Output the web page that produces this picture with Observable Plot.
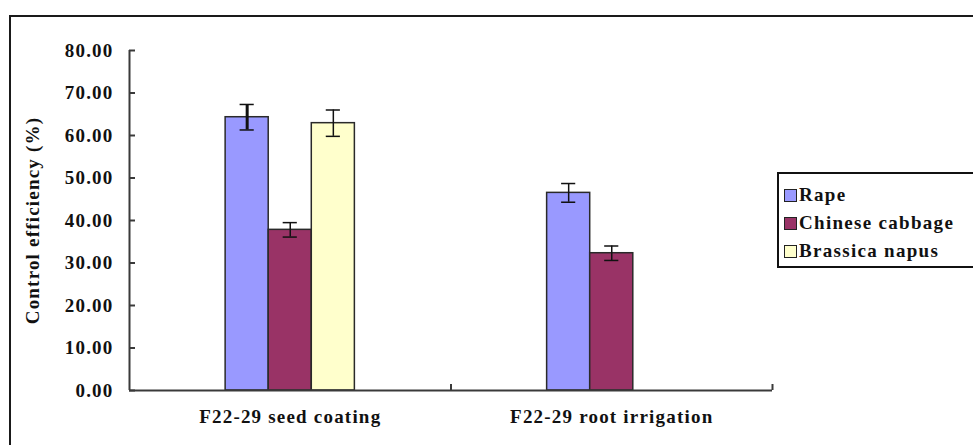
<!DOCTYPE html>
<html>
<head>
<meta charset="utf-8">
<script src="https://cdn.jsdelivr.net/npm/d3@7"></script>
<script src="https://cdn.jsdelivr.net/npm/@observablehq/plot@0.6"></script>
<style>
  body { margin: 0; background: #fff; }
  #wrap { position: relative; width: 973px; height: 445px; overflow: hidden; background: #fff; }
  #frame { position: absolute; left: 9px; top: 15px; width: 1000px; height: 500px;
           border-left: 2px solid #1a1a1a; border-top: 2px solid #1a1a1a; box-sizing: border-box; }
  #legend { position: absolute; left: 777px; top: 172px; width: 220px; height: 96px;
            border: 2px solid #111; box-sizing: border-box; background: #fff;
            font-family: 'Liberation Serif', 'DejaVu Serif', serif; font-weight: bold;
            font-size: 19px; letter-spacing: 1.3px; color: #111; padding-top: 7px; }
  .row { display: flex; align-items: center; height: 28px; padding-left: 5px; }
  .sw { width: 13px; height: 13px; border: 1.5px solid #222; box-sizing: border-box; margin-right: 2px; }
  #plot { position: absolute; left: 0; top: 0; }
  #plot svg, #plot svg text { font-family: 'Liberation Serif', 'DejaVu Serif', serif !important; }
</style>
</head>
<body>
<div id="wrap">
  <div id="frame"></div>
  <div id="plot"></div>
  <div id="legend"></div>
</div>
<script>
const treatments = ["F22-29 seed coating", "F22-29 root irrigation"];
const seriesNames = ["Rape", "Chinese cabbage", "Brassica napus"];
const seriesColors = ["#9999FF", "#993366", "#FFFFCC"];
const rapeValues = [64.3, 46.5];
const rapeErrors = [3.0, 2.2];
const cabbageValues = [37.8, 32.3];
const cabbageErrors = [1.7, 1.7];
const napusValues = [62.9, null];
const napusErrors = [3.1, null];
const yTicks = [0, 10, 20, 30, 40, 50, 60, 70, 80];
const yLabel = "Control efficiency (%)";

const valueSets = [rapeValues, cabbageValues, napusValues];
const errorSets = [rapeErrors, cabbageErrors, napusErrors];
const data = [];
treatments.forEach((t, ti) => {
  seriesNames.forEach((s, si) => {
    const v = valueSets[si][ti];
    if (v == null) return;
    data.push({treatment: t, ti, series: s, si, value: v, error: errorSets[si][ti]});
  });
});

// layout constants (x in treatment-index units)
const barW = 0.134;
const capHalf = 0.022;
const x1 = d => d.ti + 0.5 + (d.si - 1.5) * barW;
const xc = d => x1(d) + barW / 2;

const chart = Plot.plot({
  width: 973,
  height: 445,
  marginLeft: 129,
  marginRight: 201,
  marginTop: 50,
  marginBottom: 55,
  style: {fontFamily: "'Liberation Serif', 'DejaVu Serif', serif", fontSize: "19px", fontWeight: "bold", letterSpacing: "1.2px", color: "#111", background: "transparent"},
  x: {domain: [0, 2], axis: null},
  y: {domain: [0, 80], axis: null},
  color: {domain: seriesNames, range: seriesColors},
  marks: [
    Plot.rectY(data, {x1: x1, x2: d => x1(d) + barW, y: "value", fill: "series", stroke: "#2a2a2a", strokeWidth: 1.5}),
    Plot.ruleX(data, {x: xc, y1: d => d.value - d.error, y2: d => d.value + d.error, stroke: "#111",
      strokeWidth: d => (d.ti === 0 && d.si === 0 ? 3 : 1.5)}),
    Plot.ruleY(data, {y: d => d.value + d.error, x1: d => xc(d) - capHalf, x2: d => xc(d) + capHalf, stroke: "#111", strokeWidth: 1.5}),
    Plot.ruleY(data, {y: d => d.value - d.error, x1: d => xc(d) - capHalf, x2: d => xc(d) + capHalf, stroke: "#111", strokeWidth: 1.5}),
    Plot.ruleY([0], {stroke: "#3a3a3a", strokeWidth: 2}),
    Plot.ruleX([0], {stroke: "#3a3a3a", strokeWidth: 2}),
    Plot.axisY({ticks: yTicks, tickSize: 0, tickPadding: 16, tickFormat: d => d.toFixed(2), label: null, fill: "#111"}),
    Plot.axisY({ticks: yTicks, tickSize: -6, tickFormat: () => "", label: null, stroke: "#3a3a3a", strokeWidth: 2}),
    Plot.axisX({ticks: [1, 2], tickSize: -6, tickFormat: () => "", label: null, stroke: "#3a3a3a", strokeWidth: 2}),
    Plot.axisX({ticks: [0.5, 1.5], tickSize: 0, tickPadding: 19, tickFormat: d => treatments[Math.floor(d)], label: null, fill: "#111"}),
    Plot.text([yLabel], {frameAnchor: "left", textAnchor: "middle", rotate: -90, dx: -97, text: d => d, fill: "#111"})
  ]
});
document.getElementById("plot").appendChild(chart);

const legend = document.getElementById("legend");
seriesNames.forEach((s, i) => {
  const row = document.createElement("div");
  row.className = "row";
  const sw = document.createElement("div");
  sw.className = "sw";
  sw.style.background = seriesColors[i];
  const lab = document.createElement("span");
  lab.textContent = s;
  row.appendChild(sw);
  row.appendChild(lab);
  legend.appendChild(row);
});
</script>
</body>
</html>
